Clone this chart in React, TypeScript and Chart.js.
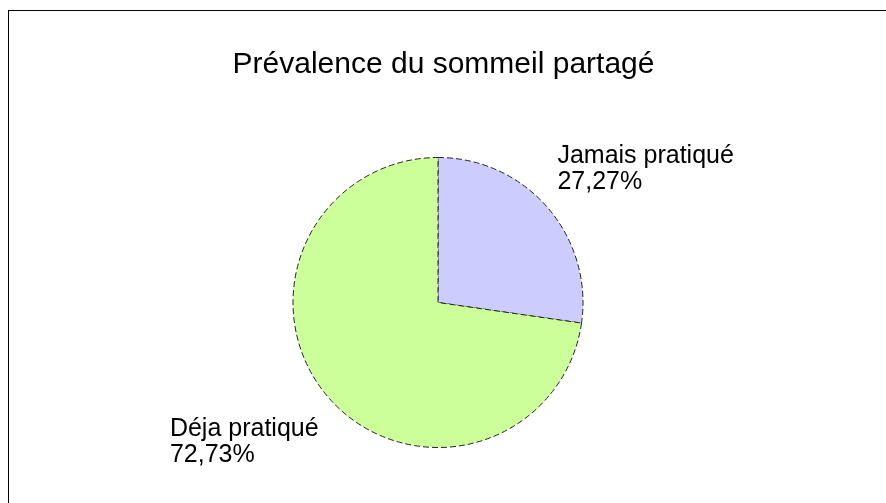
import React, { useEffect, useRef } from "react";
import { Chart, registerables } from "chart.js";

Chart.register(...registerables);

const title = "Prévalence du sommeil partagé";
const categories = ["Jamais pratiqué", "Déja pratiqué"];
const values = [27.27, 72.73];
const colors = ["#ccccff", "#ccff99"];

const FONT = '"Liberation Sans", Arial, sans-serif';

const decorPlugin = {
  id: "decor",
  beforeDraw(chart: any) {
    const ctx = chart.ctx;
    ctx.save();
    ctx.fillStyle = "#ffffff";
    ctx.fillRect(0, 0, chart.width, chart.height);
    ctx.fillStyle = "#000000";
    ctx.fillRect(8, 10, chart.width - 8, 1);
    ctx.fillRect(8, 10, 1, chart.height - 10);
    ctx.restore();
  },
  afterDraw(chart: any) {
    const ctx = chart.ctx;
    ctx.save();
    ctx.fillStyle = "#000000";
    ctx.font = `30px ${FONT}`;
    ctx.textAlign = "center";
    ctx.textBaseline = "alphabetic";
    ctx.fillText(title, 443.5, 73);

    const meta = chart.getDatasetMeta(0);
    const total = values.reduce((a, b) => a + b, 0);
    ctx.font = `25px ${FONT}`;
    ctx.textAlign = "left";
    meta.data.forEach((arc: any, i: number) => {
      const { x, y, startAngle, endAngle, outerRadius } = arc.getProps(
        ["x", "y", "startAngle", "endAngle", "outerRadius"],
        true
      );
      const mid = (startAngle + endAngle) / 2;
      const r = outerRadius + 13;
      const px = x + Math.cos(mid) * r;
      const py = y + Math.sin(mid) * r;
      const pct = ((values[i] / total) * 100).toFixed(2).replace(".", ",") + "%";
      const lines = [categories[i], pct];
      const blockW = Math.max(...lines.map((t) => ctx.measureText(t).width));
      const left = Math.cos(mid) >= 0 ? px : px - blockW;
      const lh = 26;
      let firstBaseline: number;
      if (Math.sin(mid) < 0) {
        firstBaseline = py - 10 - lh * (lines.length - 1);
      } else {
        firstBaseline = py + 30;
      }
      lines.forEach((t, k) => ctx.fillText(t, left, firstBaseline + k * lh));
    });
    ctx.restore();
  },
};

export default function App() {
  const ref = useRef<HTMLCanvasElement | null>(null);
  useEffect(() => {
    document.body.style.margin = "0";
    const canvas = ref.current!;
    const chart = new Chart(canvas, {
      type: "pie",
      data: {
        labels: categories,
        datasets: [
          {
            data: values,
            backgroundColor: colors,
            borderColor: "#222222",
            borderWidth: 1,
            borderDash: [6, 3],
            borderJoinStyle: "miter",
            radius: 145,
          } as any,
        ],
      },
      options: {
        responsive: false,
        animation: false,
        devicePixelRatio: 1,
        layout: { padding: { left: 280, right: 290, top: 150, bottom: 48 } },
        plugins: {
          legend: { display: false },
          title: { display: false },
          tooltip: { enabled: false },
        },
      },
      plugins: [decorPlugin],
    });
    return () => chart.destroy();
  }, []);
  return (
    <div style={{ width: 886, height: 503 }}>
      <canvas ref={ref} width={886} height={503} style={{ display: "block" }} />
    </div>
  );
}
